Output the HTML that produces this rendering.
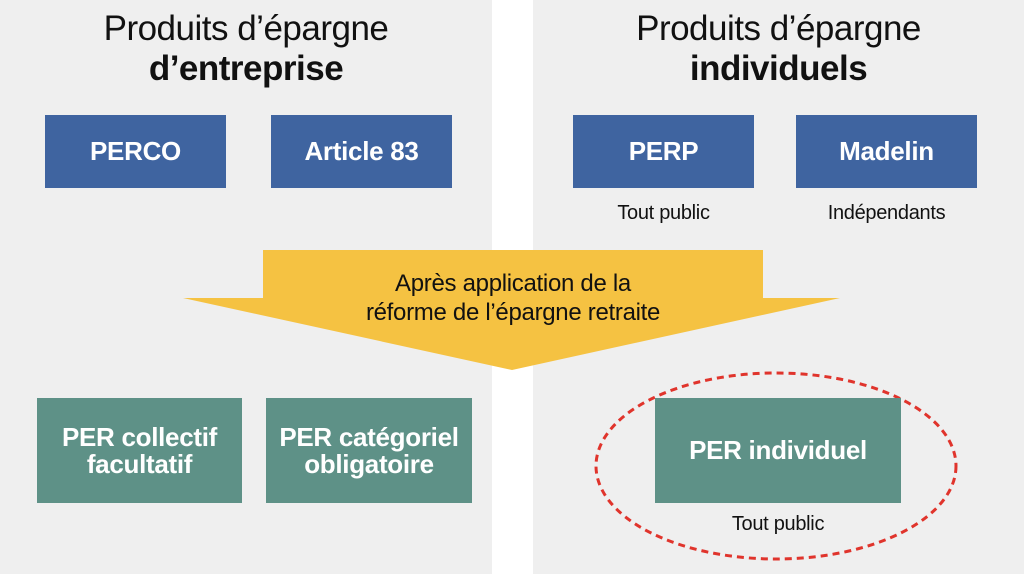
<!DOCTYPE html>
<html><head><style>
body{margin:0;width:1024px;height:574px;background:#fff;position:relative;overflow:hidden;font-family:"Liberation Sans",Arial,sans-serif}
.p{position:absolute;top:0;height:574px;background:#efefef}
.b{position:absolute;color:#fff;font-weight:bold;font-size:26px;display:flex;align-items:center;justify-content:center;text-align:center;line-height:27px;letter-spacing:-0.3px}
.bl{background:#3f64a0;top:115px;height:73px;width:181px}
.gr{background:#5e9187;top:398px;height:105px}
.t{position:absolute;text-align:center;color:#111}
</style></head><body>
<div class="p" style="left:0;width:492px"></div>
<div class="p" style="left:533px;width:491px"></div>
<div class="t" style="left:0;width:492px;top:9px;font-size:35px;line-height:40px;letter-spacing:-0.5px">Produits d’épargne<br><b>d’entreprise</b></div>
<div class="t" style="left:533px;width:491px;top:9px;font-size:35px;line-height:40px;letter-spacing:-0.5px">Produits d’épargne<br><b>individuels</b></div>
<div class="b bl" style="left:45px">PERCO</div>
<div class="b bl" style="left:271px">Article 83</div>
<div class="b bl" style="left:573px">PERP</div>
<div class="b bl" style="left:796px">Madelin</div>
<div class="t" style="left:563px;width:201px;top:202px;font-size:20px;letter-spacing:-0.3px">Tout public</div>
<div class="t" style="left:786px;width:201px;top:202px;font-size:20px;letter-spacing:-0.3px">Indépendants</div>
<svg style="position:absolute;left:0;top:0" width="1024" height="574">
<polygon points="263,250 763,250 763,298 840,298 512,370 183,298 263,298" fill="#f5c242"/>
<ellipse cx="776" cy="466" rx="180" ry="93" fill="none" stroke="#e0342c" stroke-width="3" stroke-dasharray="7,5"/>
</svg>
<div class="t" style="left:213px;width:600px;top:269px;font-size:24px;line-height:29px;letter-spacing:-0.3px">Après application de la<br>réforme de l’épargne retraite</div>
<div class="b gr" style="left:37px;width:205px">PER collectif<br>facultatif</div>
<div class="b gr" style="left:266px;width:206px">PER catégoriel<br>obligatoire</div>
<div class="b gr" style="left:655px;width:246px">PER individuel</div>
<div class="t" style="left:655px;width:246px;top:513px;font-size:20px;letter-spacing:-0.3px">Tout public</div>
</body></html>
